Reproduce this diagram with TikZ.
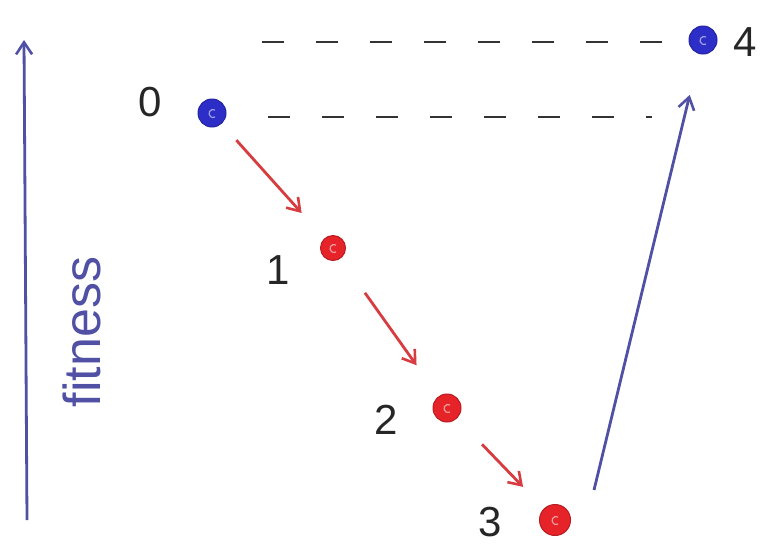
\documentclass[tikz,border=0pt]{standalone}
\usepackage{fontspec}
\setmainfont{Liberation Sans}
\usetikzlibrary{arrows.meta}
\definecolor{axisblue}{RGB}{80,80,165}
\definecolor{dotblue}{RGB}{45,45,200}
\definecolor{dotred}{RGB}{230,35,40}
\definecolor{arrred}{RGB}{215,60,65}
\tikzset{
  dotnode/.style={circle, fill=#1, draw=#1!80!black, line width=1pt, minimum size=28pt, inner sep=0pt},
  lbl/.style={font=\fontsize{42}{46}\selectfont, text=black!85, inner sep=0pt},
  redarrow/.style={draw=arrred, line width=2.8pt, -{Straight Barb[length=12pt,width=16pt,line width=2.6pt]}},
  bluearrow/.style={draw=axisblue, line width=2.8pt, -{Straight Barb[length=12pt,width=16pt,line width=2.6pt]}},
  dashline/.style={draw=black!80, line width=2.4pt, dash pattern=on 22pt off 32pt}
}
\begin{document}
\begin{tikzpicture}[x=1pt,y=-1pt]
\useasboundingbox (0,0) rectangle (767,555);
\fill[white] (0,0) rectangle (767,555);
% axis
\coordinate (axbot) at (27,520);
\coordinate (axtop) at (24,40);
\draw[bluearrow] (axbot) -- (axtop);
\node[rotate=90, text=axisblue, font=\fontsize{52}{56}\selectfont, inner sep=0pt] (fit) at (82,332) {fitness};
% dots
\node[dotnode=dotblue] (d0) at (212,113) {};
\node[dotnode=dotblue] (d4) at (703,40) {};
\node[dotnode=dotred, minimum size=25pt] (d1) at (333,248) {};
\node[dotnode=dotred, minimum size=28pt] (d2) at (447,408) {};
\node[dotnode=dotred, minimum size=31pt] (d3) at (555,520) {};
\foreach \n/\c in {d0/dotblue,d4/dotblue,d1/dotred,d2/dotred,d3/dotred}{
  \draw[\c!45!white, line width=1.2pt] (\n) ++(3pt,3pt) arc (60:300:4pt);
}
% labels
\node[lbl] (l0) at (150,102) {0};
\node[lbl] (l1) at (278,270) {1};
\node[lbl] (l2) at (386,420) {2};
\node[lbl] (l3) at (490,522) {3};
\node[lbl] (l4) at (745,42) {4};
% dashed lines
\coordinate (top0) at (262,42);
\coordinate (low0) at (268,117);
\coordinate (low1) at (652,117);
\draw[dashline] (top0) -- ([xshift=-4pt]d4.west |- top0);
\draw[dashline] (low0) -- (low1);
% red arrows
\draw[redarrow, shorten <=22pt, shorten >=34pt] (d0) -- (d1);
\draw[redarrow, shorten <=42pt, shorten >=38pt] (d1) -- (d2);
\draw[redarrow, shorten <=36pt, shorten >=30pt] (d2) -- (d3);
% blue arrow
\coordinate (b3) at (594,490);
\draw[bluearrow, shorten >=42pt] (b3) -- (d4);
\end{tikzpicture}
\end{document}
